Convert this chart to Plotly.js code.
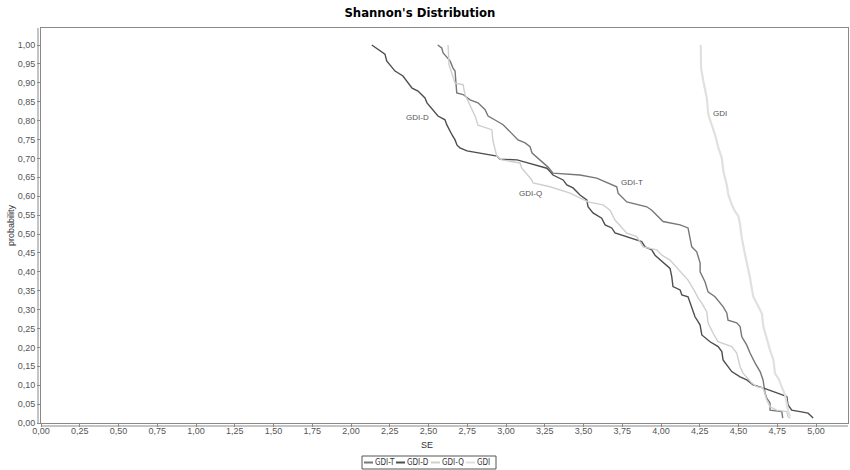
<!DOCTYPE html>
<html>
<head>
<meta charset="utf-8">
<script src="https://cdn.plot.ly/plotly-3.0.1.min.js"></script>
<style>html,body{margin:0;padding:0;background:#fff;}#chart{width:850px;height:470px;}</style>
</head>
<body>
<div id="chart"></div>
<script>
// Series names
const seriesNames = ["GDI-T", "GDI-D", "GDI-Q", "GDI"];

// GDI-T
const gdiT_se = [2.559,2.585,2.594,2.626,2.639,2.658,2.671,2.682,2.723,2.768,2.819,2.865,2.884,2.940,2.981,3.013,3.045,3.077,3.123,3.155,3.168,3.206,3.239,3.271,3.303,3.477,3.585,3.714,3.723,3.779,3.908,3.940,4.013,4.123,4.174,4.187,4.198,4.230,4.252,4.252,4.284,4.303,4.348,4.400,4.424,4.432,4.488,4.510,4.521,4.553,4.574,4.606,4.639,4.658,4.671,4.682,4.703,4.703,4.779,4.785];
const gdiT_p  = [1.000,0.992,0.979,0.966,0.958,0.939,0.931,0.873,0.869,0.855,0.847,0.829,0.812,0.799,0.789,0.776,0.763,0.749,0.741,0.731,0.714,0.701,0.688,0.677,0.661,0.656,0.648,0.625,0.608,0.585,0.572,0.563,0.533,0.524,0.516,0.493,0.466,0.453,0.423,0.400,0.373,0.347,0.334,0.308,0.291,0.272,0.265,0.255,0.228,0.206,0.185,0.159,0.136,0.114,0.079,0.066,0.053,0.034,0.030,0.013];

// GDI-D
const gdiD_se = [2.134,2.219,2.230,2.271,2.284,2.335,2.381,2.394,2.432,2.477,2.490,2.529,2.561,2.606,2.619,2.652,2.671,2.684,2.703,2.748,2.877,2.942,2.961,3.071,3.123,3.219,3.263,3.284,3.303,3.368,3.392,3.432,3.477,3.521,3.529,3.561,3.617,3.639,3.682,3.703,3.779,3.875,3.897,3.940,3.961,4.005,4.058,4.069,4.077,4.123,4.134,4.174,4.187,4.219,4.239,4.252,4.263,4.284,4.316,4.368,4.392,4.400,4.424,4.456,4.510,4.553,4.594,4.658,4.787,4.811,4.819,4.843,4.897,4.948,4.961,4.981];
const gdiD_p  = [1.000,0.976,0.958,0.939,0.931,0.918,0.894,0.886,0.878,0.860,0.847,0.828,0.812,0.802,0.788,0.762,0.749,0.735,0.728,0.720,0.712,0.706,0.698,0.696,0.690,0.680,0.674,0.665,0.656,0.643,0.630,0.622,0.603,0.590,0.572,0.556,0.542,0.524,0.516,0.503,0.493,0.480,0.466,0.458,0.444,0.427,0.409,0.387,0.361,0.352,0.339,0.334,0.317,0.281,0.268,0.259,0.233,0.225,0.215,0.202,0.189,0.167,0.153,0.136,0.122,0.114,0.101,0.093,0.074,0.070,0.048,0.034,0.030,0.026,0.021,0.013];

// GDI-Q
const gdiQ_se = [2.626,2.632,2.671,2.723,2.735,2.768,2.800,2.819,2.908,2.916,2.929,2.940,2.972,3.090,3.101,3.166,3.174,3.284,3.413,3.529,3.626,3.671,3.703,3.779,3.843,3.884,3.972,4.005,4.058,4.123,4.174,4.219,4.239,4.263,4.295,4.303,4.335,4.368,4.392,4.456,4.488,4.510,4.529,4.585,4.617,4.658,4.682,4.703,4.746,4.811,4.819,4.832];
const gdiQ_p  = [1.000,0.948,0.899,0.895,0.869,0.842,0.812,0.788,0.776,0.746,0.720,0.706,0.696,0.688,0.675,0.643,0.635,0.625,0.608,0.585,0.577,0.563,0.537,0.502,0.493,0.466,0.458,0.444,0.431,0.400,0.378,0.347,0.331,0.317,0.294,0.265,0.238,0.215,0.212,0.202,0.185,0.149,0.132,0.106,0.096,0.093,0.061,0.043,0.034,0.030,0.017,0.013];

// GDI
const gdi_se = [4.256,4.258,4.273,4.295,4.305,4.327,4.348,4.370,4.392,4.402,4.424,4.434,4.456,4.477,4.499,4.510,4.521,4.542,4.563,4.574,4.585,4.595,4.628,4.650,4.660,4.682,4.703,4.725,4.735,4.757,4.779,4.800,4.815,4.821,4.832];
const gdi_p  = [1.000,0.939,0.904,0.860,0.816,0.789,0.763,0.728,0.701,0.666,0.630,0.604,0.578,0.560,0.547,0.525,0.489,0.445,0.410,0.384,0.357,0.334,0.308,0.290,0.255,0.220,0.193,0.167,0.131,0.118,0.096,0.074,0.043,0.030,0.017];

// Curve labels (text and anchor data positions)
const labelTexts = ["GDI-D", "GDI-T", "GDI-Q", "GDI"];
const labelSE    = [2.43, 3.81, 3.155, 4.38];
const labelP     = [0.807, 0.635, 0.608, 0.82];

const colors = ["#777777", "#4e4e4e", "#cfcfcf", "#e0e0e0"];
const widths = [1.4, 1.4, 1.4, 2.2];
const xs = [gdiT_se, gdiD_se, gdiQ_se, gdi_se];
const ys = [gdiT_p, gdiD_p, gdiQ_p, gdi_p];

const traces = seriesNames.map((n, i) => ({
  x: xs[i], y: ys[i], name: n, type: "scatter", mode: "lines",
  line: {color: colors[i], width: widths[i]}, hoverinfo: "skip", showlegend: false
}));

// Plot-area geometry (pixels) used to place the compact legend below the plot
const W = 850, H = 470, ML = 41, MR = 2, MT = 28, MB = 47;
const PW = W - ML - MR, PH = H - MT - MB;
const px = v => (v - ML) / PW;           // pixel x -> paper x
const py = v => (H - MB - v) / PH;       // pixel y -> paper y

// Compact legend layout (pixel positions of each entry's swatch start)
const legSwatchX = [364, 396, 431, 466];
const legY = 462.5;
const legShapes = [{type: "rect", xref: "paper", yref: "paper", x0: px(362), x1: px(496), y0: py(469), y1: py(456),
  line: {color: "#555", width: 1}, fillcolor: "#fff"}];
const legAnn = [];
seriesNames.forEach((n, i) => {
  legShapes.push({type: "line", xref: "paper", yref: "paper", x0: px(legSwatchX[i]), x1: px(legSwatchX[i] + 9),
    y0: py(legY), y1: py(legY), line: {color: colors[i], width: 2}});
  legAnn.push({xref: "paper", yref: "paper", x: px(legSwatchX[i] + 10), y: py(legY), text: n, showarrow: false,
    xanchor: "left", yanchor: "middle", borderpad: 0,
    font: {family: "Liberation Sans Narrow, DejaVu Sans Condensed, sans-serif", size: 8, color: "#333"}});
});

// x-axis title, placed as in the reference (below the 2,50 tick)
const xTitleAnn = {xref: "paper", yref: "paper", x: px(427), y: py(445), text: "SE", showarrow: false,
  xanchor: "center", yanchor: "middle",
  font: {family: "Liberation Sans, Arial, sans-serif", size: 9, color: "#333"}};

const tickFont = {family: "Liberation Sans, Arial, sans-serif", size: 9, color: "#555"};

const layout = {
  width: W, height: H,
  paper_bgcolor: "#fff", plot_bgcolor: "#fff",
  separators: ",.",
  margin: {l: ML, r: MR, t: MT, b: MB, autoexpand: false},
  title: {
    text: "<b>Shannon's Distribution</b>",
    font: {family: "Liberation Sans Narrow, DejaVu Sans Condensed, Arial Narrow, sans-serif", size: 13, color: "#000"},
    x: 0.494, xref: "container", xanchor: "center",
    y: 1 - 12/470, yref: "container", yanchor: "middle"
  },
  xaxis: {
    range: [0, 5.206], dtick: 0.25, tick0: 0, tickformat: ".2f",
    showgrid: false, zeroline: false, automargin: false,
    showline: true, mirror: true, linecolor: "#8a8a8a", linewidth: 1,
    ticks: "outside", ticklen: 3, tickcolor: "#8a8a8a", ticklabelstandoff: -4,
    tickfont: tickFont
  },
  yaxis: {
    range: [0, 1.045], dtick: 0.05, tick0: 0, tickformat: ".2f",
    showgrid: false, zeroline: false, automargin: false,
    showline: true, mirror: true, linecolor: "#8a8a8a", linewidth: 1,
    ticks: "outside", ticklen: 3, tickcolor: "#8a8a8a",
    tickfont: tickFont,
    title: {text: "probability", font: {family: "Liberation Sans, Arial, sans-serif", size: 9, color: "#333"}, standoff: 1}
  },
  showlegend: false,
  annotations: labelTexts.map((t, i) => ({
    x: labelSE[i], y: labelP[i], xref: "x", yref: "y", text: t, showarrow: false,
    font: {family: "Liberation Sans, Arial, sans-serif", size: 8, color: "#555"},
    xanchor: "center", yanchor: "middle"
  })).concat(legAnn, [xTitleAnn]),
  shapes: [
    {type: "line", xref: "paper", yref: "paper", x0: -3/PW, x1: -3/PW, y0: 0, y1: 1, line: {color: "#8a8a8a", width: 1}},
    {type: "line", xref: "paper", yref: "paper", x0: 0, x1: 1, y0: -3/PH, y1: -3/PH, line: {color: "#8a8a8a", width: 1}}
  ].concat(legShapes)
};

Plotly.newPlot("chart", traces, layout, {displayModeBar: false, staticPlot: true});
</script>
</body>
</html>
